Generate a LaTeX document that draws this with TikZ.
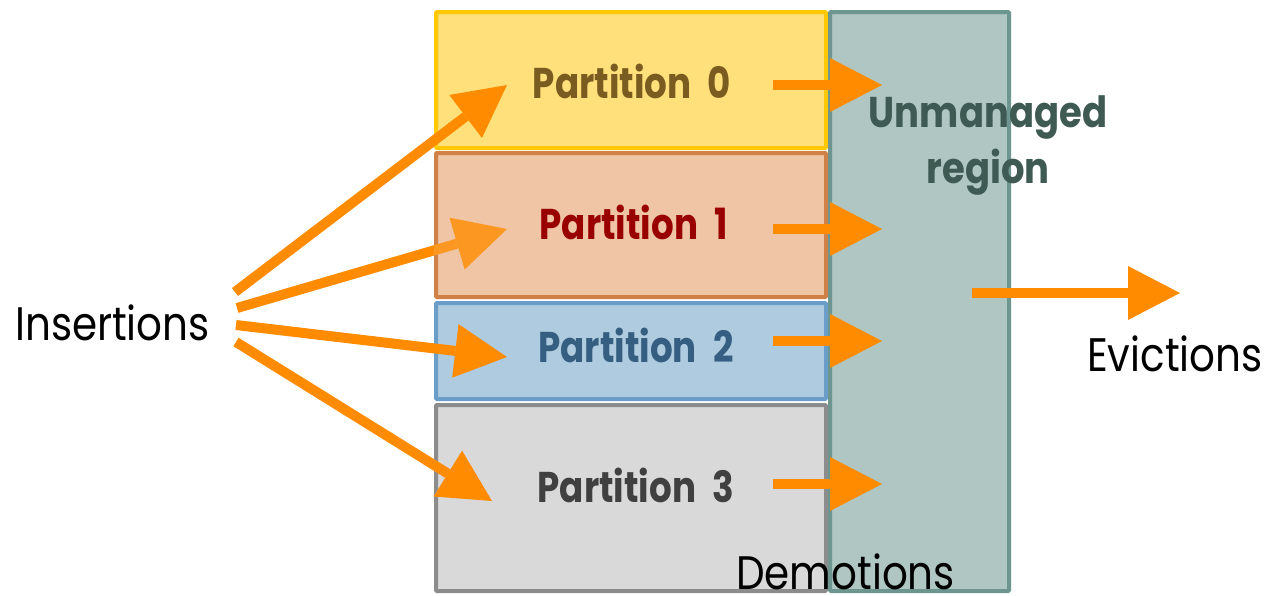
\documentclass[tikz,border=0pt]{standalone}
\usepackage{fontspec}
\setmainfont{Poppins}
\newfontfamily\geo[FakeStretch=0.86]{Poppins}
\newfontfamily\geob[FakeStretch=0.83]{Poppins}
\usetikzlibrary{arrows.meta}

\definecolor{arrowc}{HTML}{FF8C00}
\definecolor{pzfill}{HTML}{FFE07A}\definecolor{pzline}{HTML}{FFC800}\definecolor{pztext}{HTML}{7B5C20}
\definecolor{ponefill}{HTML}{F0C5A5}\definecolor{poneline}{HTML}{C87030}\definecolor{ponetext}{HTML}{990000}
\definecolor{ptwofill}{HTML}{AECBE0}\definecolor{ptwoline}{HTML}{6A9EC8}\definecolor{ptwotext}{HTML}{365E80}
\definecolor{pthrfill}{HTML}{D9D9D9}\definecolor{pthrline}{HTML}{8C8C8C}\definecolor{pthrtext}{HTML}{404040}
\definecolor{umfill}{HTML}{AFC6C2}\definecolor{umline}{HTML}{6E9690}\definecolor{umtext}{HTML}{3E5A52}

\newcommand{\ptitle}[1]{Partition\hspace{9pt} #1}

\tikzset{
  pbox/.style={rectangle, line width=4pt, inner sep=0pt, rounded corners=1pt},
  plabel/.style={anchor=base, inner sep=0pt, font=\geob\bfseries\fontsize{43}{50}\selectfont},
  biglabel/.style={anchor=base west, inner sep=0pt, font=\geo\fontsize{47}{54}\selectfont},
  flow/.style={draw=arrowc, line width=10pt,
    -{Triangle[length=52pt, width=54pt, line width=0pt]}},
}

\begin{document}
\begin{tikzpicture}[x=1pt, y=-1pt]
\useasboundingbox (0,0) rectangle (1264,595);

% partition boxes and the unmanaged region
\node[pbox, fill=pzfill, draw=pzline, minimum width=390pt, minimum height=136pt] (p0) at (631,80) {};
\node[pbox, fill=ponefill, draw=poneline, minimum width=390pt, minimum height=144pt] (p1) at (631,225) {};
\node[pbox, fill=ptwofill, draw=ptwoline, minimum width=390pt, minimum height=96pt] (p2) at (631,351) {};
\node[pbox, fill=pthrfill, draw=pthrline, minimum width=390pt, minimum height=186pt] (p3) at (631,498) {};
\node[pbox, fill=umfill, draw=umline, minimum width=179pt, minimum height=579pt] (um) at (919.5,301.5) {};

% arrow end points
\coordinate (i0) at (235,292); \coordinate (t0) at (507,85);
\coordinate (i1) at (237,308); \coordinate (t1) at (507,229);
\coordinate (i2) at (236,325); \coordinate (t2) at (507,357);
\coordinate (i3) at (236,342); \coordinate (t3) at (492,501);
\coordinate (d0) at (773,85);  \coordinate (e0) at (882,85);
\coordinate (d1) at (773,229); \coordinate (e1) at (882,229);
\coordinate (d2) at (773,341); \coordinate (e2) at (882,341);
\coordinate (d3) at (773,484); \coordinate (e3) at (882,484);
\coordinate (v0) at (972,293); \coordinate (v1) at (1180,293);

% insertions
\draw[flow] (i0) -- (t0);
\draw[flow] (i1) -- (t1);
\draw[flow] (i2) -- (t2);
\draw[flow] (i3) -- (t3);
% the partition 1 fill shows faintly over its insertion arrow
\fill[ponefill, fill opacity=0.2] (p1.north west) rectangle (p1.south east);

% labels
\node[plabel, text=pztext] (l0) at (632,98) {\ptitle{0}};
\node[plabel, text=ponetext] (l1) at (634,239) {\ptitle{1}};
\node[plabel, text=ptwotext] (l2) at (636,362) {\ptitle{2}};
\node[plabel, text=pthrtext] (l3) at (636,502) {\ptitle{3}};
\node[anchor=base, inner sep=0pt, align=center, text=umtext,
      font=\geo\bfseries\fontsize{43}{56}\selectfont] (uml) at (988,183) {Unmanaged\\region};
\node[biglabel] (ins) at (15,340) {Insertions};
\node[biglabel] (ev) at (1087,371) {Evictions};
\node[biglabel] (dem) at (736,589) {Demotions};

% demotions and evictions
\draw[flow] (d0) -- (e0);
\draw[flow] (d1) -- (e1);
\draw[flow] (d2) -- (e2);
\draw[flow] (d3) -- (e3);
\draw[flow] (v0) -- (v1);
\end{tikzpicture}
\end{document}
